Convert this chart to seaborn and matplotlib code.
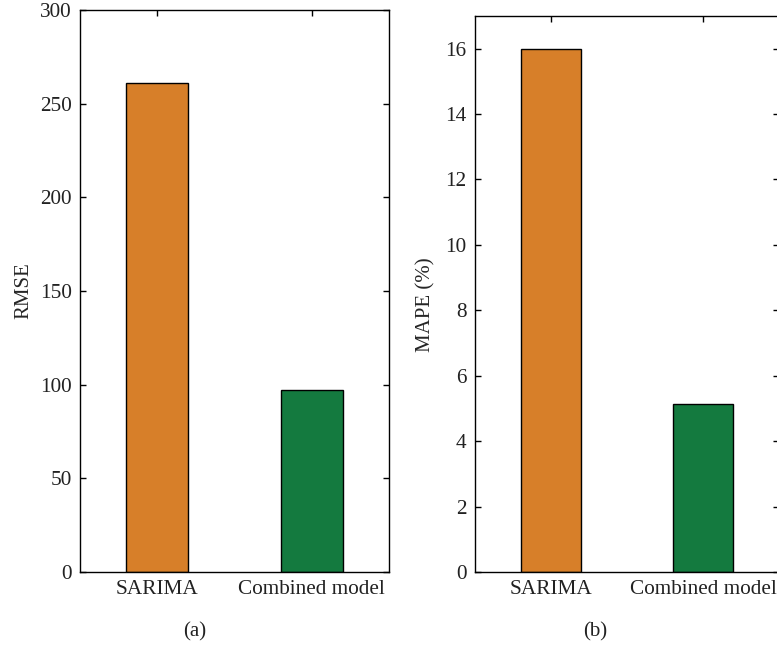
import matplotlib

matplotlib.use("Agg")
import matplotlib.pyplot as plt
import pandas as pd
import seaborn as sns

# Values
models = ["SARIMA", "Combined model"]
rmse = [261, 97]
mape = [16.0, 5.13]
bar_colors = ["#D77F29", "#147A3F"]

sns.set_theme(style="ticks")
plt.rcParams["font.family"] = ["Liberation Serif", "DejaVu Serif"]
plt.rcParams["font.size"] = 15

fig = plt.figure(figsize=(7.77, 6.46), dpi=100)
ax1 = fig.add_axes([0.1030, 0.1146, 0.3977, 0.8700])
ax2 = fig.add_axes([0.6113, 0.1146, 0.3913, 0.8607])


def draw_panel(ax, values, ylabel, ylim, yticks):
    df = pd.DataFrame({"model": models, "value": values})
    sns.barplot(
        data=df,
        x="model",
        y="value",
        hue="model",
        palette=bar_colors,
        saturation=1,
        width=0.4,
        edgecolor="black",
        linewidth=1,
        legend=False,
        ax=ax,
    )
    ax.set_xlim(-0.5, 1.5)
    ax.set_ylim(*ylim)
    ax.set_yticks(yticks)
    ax.set_xlabel("")
    ax.set_ylabel(ylabel, fontsize=15, labelpad=5)
    ax.tick_params(
        direction="in", length=4, width=1, top=True, right=True,
        labelsize=15.3, colors="black", labelcolor="#222222", pad=6,
    )
    ax.tick_params(axis="y", labelright=False)
    for s in ax.spines.values():
        s.set_visible(True)
        s.set_linewidth(1)
        s.set_color("black")


draw_panel(ax1, rmse, "RMSE", (0, 300), range(0, 301, 50))
draw_panel(ax2, mape, "MAPE (%)", (0, 17), range(0, 17, 2))
# MAPE label sits a little below the middle in the reference
ax2.yaxis.set_label_coords(-0.13, 0.48)

fig.text(195 / 777, 1 - 632 / 646, "(a)", ha="center", va="center", fontsize=15, color="#222222")
fig.text(595 / 777, 1 - 632 / 646, "(b)", ha="center", va="center", fontsize=15, color="#222222")

fig.savefig("out.png", dpi=100)
